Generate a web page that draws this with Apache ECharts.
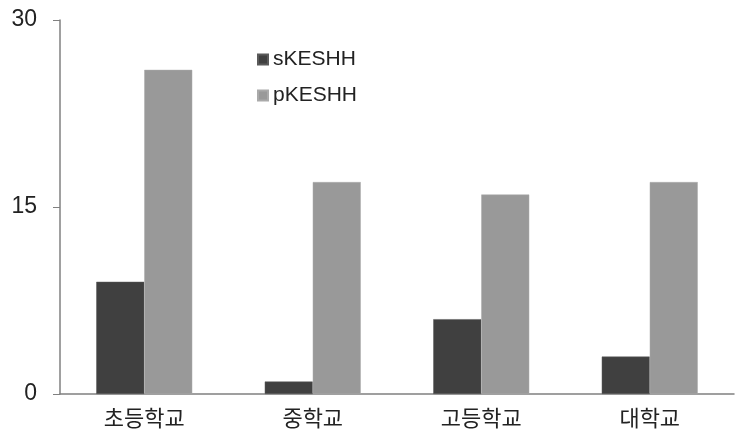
<!DOCTYPE html>
<html>
<head>
<meta charset="utf-8">
<script src="https://cdn.jsdelivr.net/npm/echarts@6/dist/echarts.min.js"></script>
<style>
  html, body { margin: 0; padding: 0; background: #fff; }
  #chart { width: 735px; height: 435px; }
</style>
</head>
<body>
<div id="chart"></div>
<script>
// 데이터
var categories = ['초등학교', '중학교', '고등학교', '대학교'];
var sValues = [9, 1, 6, 3];
var pValues = [26, 17, 16, 17];
var seriesNames = ['sKESHH', 'pKESHH'];

var chart = echarts.init(document.getElementById('chart'));

var option = {
    animation: false,
    grid: {left: 60, right: 1, top: 20, bottom: 41},
    legend: {
        orient: 'vertical',
        left: 252,
        top: 44,
        itemWidth: 10,
        itemHeight: 10,
        itemGap: 15,
        icon: 'rect',
        data: seriesNames,
        textStyle: {fontFamily: 'Liberation Sans', fontSize: 21, color: '#222'}
    },
    xAxis: {
        type: 'category',
        data: categories,
        axisLine: {lineStyle: {color: '#808080', width: 1.5}},
        axisTick: {length: 6, lineStyle: {color: '#808080'}},
        axisLabel: {fontFamily: 'Noto Sans CJK KR', fontSize: 22, color: '#222', margin: 13}
    },
    yAxis: {
        type: 'value',
        min: 0,
        max: 30,
        interval: 15,
        splitLine: {show: false},
        axisLine: {show: true, lineStyle: {color: '#808080', width: 1.5}},
        axisTick: {show: true, length: 7, lineStyle: {color: '#808080'}},
        axisLabel: {fontFamily: 'Liberation Sans', fontSize: 23, color: '#222', margin: 23}
    },
    series: [
        {
            name: seriesNames[0],
            type: 'bar',
            data: sValues,
            barWidth: 48,
            barGap: '0%',
            itemStyle: {color: '#404040', borderColor: '#5a5a5a', borderWidth: 0.5}
        },
        {
            name: seriesNames[1],
            type: 'bar',
            data: pValues,
            barWidth: 48,
            itemStyle: {color: '#999999', borderColor: '#aaaaaa', borderWidth: 0.5}
        }
    ]
};

chart.setOption(option);
</script>
</body>
</html>
